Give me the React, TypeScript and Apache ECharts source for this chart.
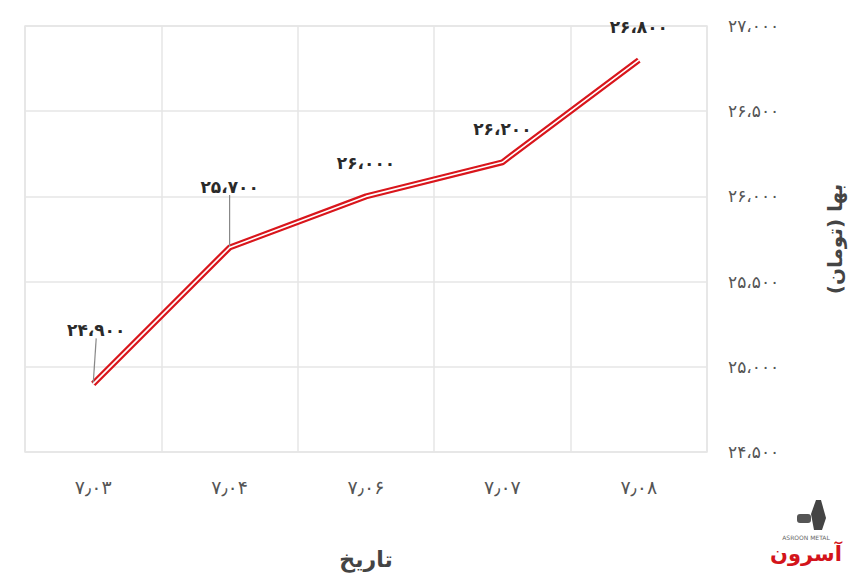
import React, { useEffect, useRef } from "react";
import * as echarts from "echarts";

const categories = ["۷٫۰۳", "۷٫۰۴", "۷٫۰۶", "۷٫۰۷", "۷٫۰۸"];
const prices = [24900, 25700, 26000, 26200, 26800];
const yMin = 24500;
const yMax = 27000;
const yStep = 500;
const xAxisName = "تاریخ";
const yAxisName = "بها (تومان)";
const logoText = "آسرون";
const logoSub = "ASROON METAL";

const FA_DIGITS = "۰۱۲۳۴۵۶۷۸۹";
function toFa(n: number): string {
  const s = String(Math.round(n)).replace(/\B(?=(\d{3})+(?!\d))/g, "،");
  return s.replace(/\d/g, (d) => FA_DIGITS[Number(d)]);
}

const FONT = "DejaVu Sans, Noto Sans, sans-serif";
const labelDy = [-21, -28, 0, 0, 0];
const labelDx = [3, 0, 0, 0, 0];

export default function App() {
  const ref = useRef<HTMLDivElement>(null);
  useEffect(() => {
    if (!ref.current) return;
    const chart = echarts.init(ref.current, undefined, { renderer: "svg" });
    chart.setOption({
      animation: false,
      backgroundColor: "#ffffff",
      grid: { left: 25, right: 153, top: 26, bottom: 131, show: true, borderColor: "#e6e6e6", borderWidth: 1.5 },
      xAxis: {
        type: "category",
        data: categories,
        boundaryGap: true,
        name: xAxisName,
        nameLocation: "middle",
        nameGap: 96,
        nameTextStyle: { fontFamily: FONT, fontSize: 22, fontWeight: "bold", color: "#444" },
        axisLine: { show: false },
        axisTick: { show: false },
        axisLabel: { fontFamily: FONT, fontSize: 19, color: "#555", margin: 25 },
        splitLine: { show: true, lineStyle: { color: "#e6e6e6", width: 1.5 } },
      },
      yAxis: {
        type: "value",
        position: "right",
        min: yMin,
        max: yMax,
        interval: yStep,
        name: yAxisName,
        nameLocation: "middle",
        nameGap: 118,
        nameTextStyle: { fontFamily: FONT, fontSize: 20, fontWeight: "bold", color: "#444" },
        axisLine: { show: false },
        axisTick: { show: false },
        axisLabel: { fontFamily: FONT, fontSize: 17, color: "#555", margin: 21, formatter: (v: number) => toFa(v) },
        splitLine: { show: true, lineStyle: { color: "#e6e6e6", width: 1.5 } },
      },
      series: [
        {
          type: "line",
          data: prices.map((v, i) => ({
            value: v,
            labelLine: { show: labelDy[i] !== 0 },
          })),
          symbol: "circle",
          symbolSize: 1,
          showSymbol: true,
          itemStyle: { color: "rgba(0,0,0,0)" },
          lineStyle: { color: "#d9161c", width: 6 },
          label: {
            show: true,
            position: "top",
            distance: 24,
            fontFamily: FONT,
            fontSize: 17,
            fontWeight: "bold",
            color: "#2a2a2a",
            formatter: (p: any) => toFa(p.value),
          },
          labelLayout: (p: any) => ({ dy: labelDy[p.dataIndex], dx: labelDx[p.dataIndex] }),
          labelLine: { show: false, length2: 0, lineStyle: { color: "#888", width: 1.2 } },
          z: 2,
        },
        {
          type: "line",
          data: prices,
          symbol: "none",
          silent: true,
          lineStyle: { color: "#ffffff", width: 1.6 },
          z: 3,
        },
      ],
      graphic: [
        {
          type: "polygon",
          shape: { points: [[816, 500], [821, 500], [826, 518], [822, 530], [814, 530], [811, 514]] },
          style: { fill: "#444" },
        },
        {
          type: "rect",
          shape: { x: 797, y: 514, width: 14, height: 9, r: 3 },
          style: { fill: "#555" },
        },
        {
          type: "text",
          x: 806,
          y: 537,
          style: { text: logoSub, fontFamily: FONT, fontSize: 6, fill: "#666", align: "center", verticalAlign: "middle" },
        },
        {
          type: "text",
          x: 806,
          y: 554,
          style: { text: logoText, fontFamily: FONT, fontSize: 21, fontWeight: "bold", fill: "#d3141b", align: "center", verticalAlign: "middle" },
        },
      ],
    });
    return () => chart.dispose();
  }, []);
  return <div ref={ref} style={{ position: "fixed", left: 0, top: 0, width: 860, height: 583 }} />;
}
